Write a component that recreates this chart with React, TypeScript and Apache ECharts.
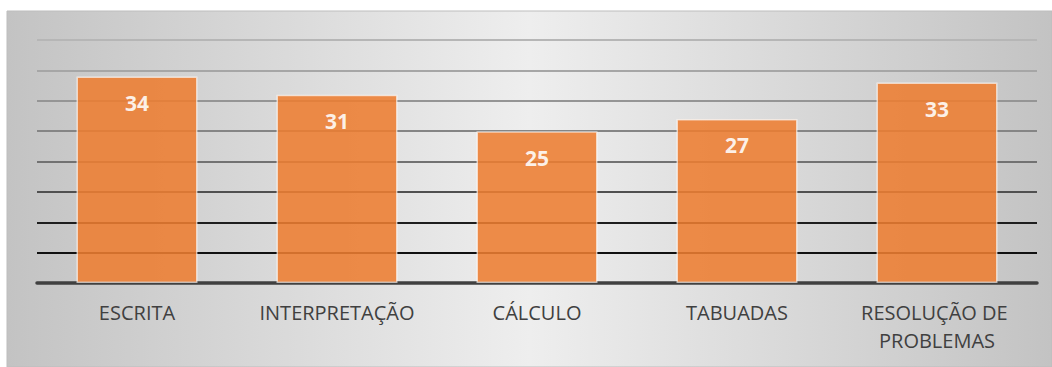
import React, { useEffect, useRef } from "react";
import * as echarts from "echarts";

const categories = ["ESCRITA", "INTERPRETAÇÃO", "CÁLCULO", "TABUADAS", "RESOLUÇÃO DE PROBLEMAS"];
const values = [34, 31, 25, 27, 33];
const gridColors = ["#404040", "#111111", "#1e1e1e", "#505050", "#727272", "#858585", "#959595", "#a6a6a6", "#b6b6b6"];

export default function App() {
  const ref = useRef<HTMLDivElement>(null);
  useEffect(() => {
    const chart = echarts.init(ref.current!, null, { renderer: "svg" });
    chart.setOption({
      animation: false,
      graphic: [
        {
          type: "rect",
          z: -10,
          shape: { x: 7, y: 11, width: 1045, height: 356 },
          style: {
            fill: new echarts.graphic.LinearGradient(0, 0, 1, 0, [
              { offset: 0, color: "#c3c3c3" },
              { offset: 0.5, color: "#eeeeee" },
              { offset: 1, color: "#c3c3c3" },
            ]),
            stroke: "#bdbdbd",
            lineWidth: 1,
          },
        },
      ],
      grid: { left: 37, right: 15, top: 40, bottom: 84, containLabel: false },
      xAxis: {
        type: "category",
        data: categories,
        axisLine: { lineStyle: { color: "#404040", width: 3.5 } },
        axisTick: { show: false },
        axisLabel: {
          color: "#404040",
          fontFamily: "Open Sans",
          fontSize: 20,
          lineHeight: 28,
          margin: 15,
          width: 185,
          overflow: "break",
          interval: 0,
        },
      },
      yAxis: {
        type: "value",
        min: 0,
        max: 40,
        interval: 5,
        axisLabel: { show: false },
        axisLine: { show: false },
        axisTick: { show: false },
        splitLine: { lineStyle: { color: gridColors, width: 2 } },
      },
      series: [
        {
          type: "bar",
          data: values,
          barWidth: 121,
          itemStyle: {
            color: "#ED7D31",
            opacity: 0.88,
            borderColor: "rgba(255,255,255,0.7)",
            borderWidth: 1.5,
          },
          label: {
            show: true,
            position: "insideTop",
            distance: 16,
            color: "#ffffff",
            fontFamily: "Open Sans",
            fontWeight: "bold",
            fontSize: 21,
          },
        },
      ],
    });
    return () => chart.dispose();
  }, []);
  return <div ref={ref} style={{ position: "absolute", left: 0, top: 0, width: 1052, height: 367 }} />;
}
